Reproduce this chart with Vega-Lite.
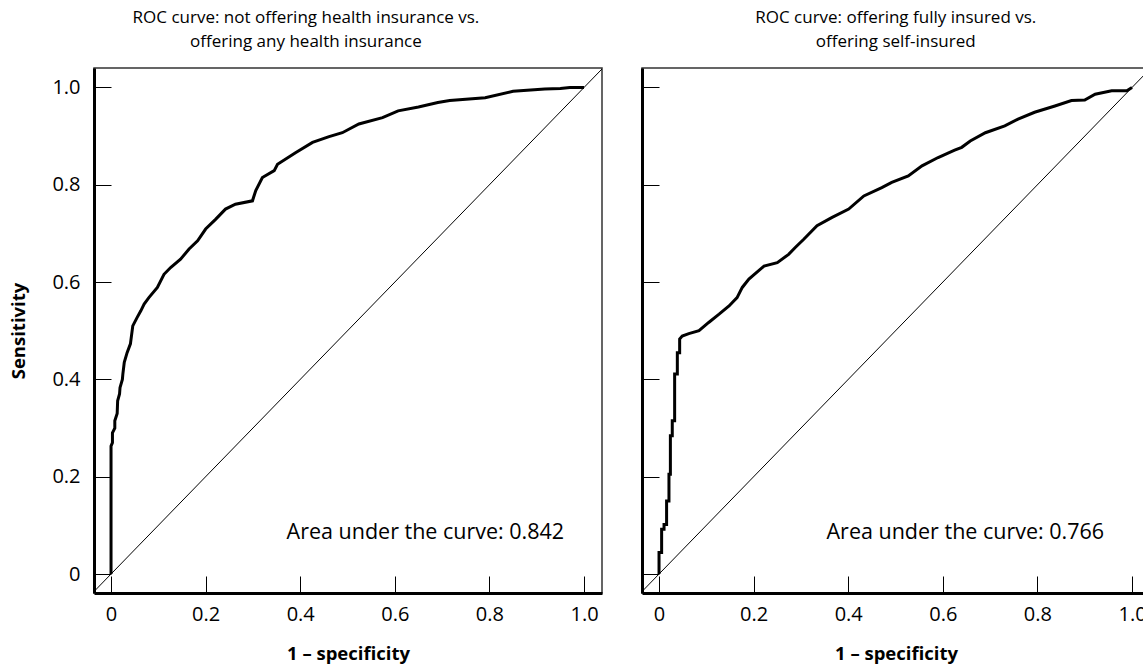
{
  "$schema": "https://vega.github.io/schema/vega-lite/v6.json",
  "padding": {"left": 9, "top": 8, "right": 0, "bottom": 0},
  "background": "white",
  "config": {
    "font": "Open Sans",
    "view": {"stroke": "#333", "strokeWidth": 1.5},
    "axis": {
      "grid": false,
      "domainColor": "black",
      "domainWidth": 3,
      "tickColor": "black",
      "tickWidth": 1,
      "tickSize": -17,
      "labelFont": "Open Sans",
      "labelFontSize": 20,
      "labelColor": "black",
      "titleFont": "Open Sans",
      "titleFontSize": 18.5,
      "titleFontWeight": "bold",
      "titleColor": "black"
    },
    "title": {"font": "Open Sans", "fontSize": 17, "fontWeight": "normal", "color": "black", "anchor": "middle", "frame": "bounds", "offset": 17, "lineHeight": 24}
  },
  "datasets": {
    "left": [
      {"fpr": 0, "tpr": 0}, {"fpr": 0, "tpr": 0.263}, {"fpr": 0.003, "tpr": 0.27}, {"fpr": 0.003, "tpr": 0.29},
      {"fpr": 0.008, "tpr": 0.3}, {"fpr": 0.008, "tpr": 0.315}, {"fpr": 0.013, "tpr": 0.33}, {"fpr": 0.014, "tpr": 0.356},
      {"fpr": 0.018, "tpr": 0.37}, {"fpr": 0.019, "tpr": 0.383}, {"fpr": 0.024, "tpr": 0.4}, {"fpr": 0.025, "tpr": 0.411},
      {"fpr": 0.028, "tpr": 0.435}, {"fpr": 0.034, "tpr": 0.455}, {"fpr": 0.041, "tpr": 0.473}, {"fpr": 0.046, "tpr": 0.51},
      {"fpr": 0.055, "tpr": 0.527}, {"fpr": 0.063, "tpr": 0.541}, {"fpr": 0.07, "tpr": 0.555}, {"fpr": 0.08, "tpr": 0.568},
      {"fpr": 0.098, "tpr": 0.589}, {"fpr": 0.112, "tpr": 0.616}, {"fpr": 0.126, "tpr": 0.63}, {"fpr": 0.147, "tpr": 0.647},
      {"fpr": 0.165, "tpr": 0.668}, {"fpr": 0.183, "tpr": 0.685}, {"fpr": 0.2, "tpr": 0.709}, {"fpr": 0.221, "tpr": 0.729},
      {"fpr": 0.242, "tpr": 0.75}, {"fpr": 0.263, "tpr": 0.76}, {"fpr": 0.299, "tpr": 0.767}, {"fpr": 0.306, "tpr": 0.788},
      {"fpr": 0.32, "tpr": 0.815}, {"fpr": 0.345, "tpr": 0.829}, {"fpr": 0.352, "tpr": 0.842}, {"fpr": 0.39, "tpr": 0.866},
      {"fpr": 0.426, "tpr": 0.887}, {"fpr": 0.461, "tpr": 0.899}, {"fpr": 0.489, "tpr": 0.907}, {"fpr": 0.524, "tpr": 0.925},
      {"fpr": 0.574, "tpr": 0.938}, {"fpr": 0.607, "tpr": 0.952}, {"fpr": 0.65, "tpr": 0.96}, {"fpr": 0.691, "tpr": 0.969},
      {"fpr": 0.716, "tpr": 0.973}, {"fpr": 0.791, "tpr": 0.979}, {"fpr": 0.85, "tpr": 0.992}, {"fpr": 0.917, "tpr": 0.997},
      {"fpr": 0.95, "tpr": 0.998}, {"fpr": 0.97, "tpr": 1.0}, {"fpr": 1.0, "tpr": 1.0}
    ],
    "right": [
      {"fpr": 0, "tpr": 0}, {"fpr": 0, "tpr": 0.044}, {"fpr": 0.0055, "tpr": 0.044}, {"fpr": 0.0055, "tpr": 0.092},
      {"fpr": 0.0106, "tpr": 0.092}, {"fpr": 0.0106, "tpr": 0.102}, {"fpr": 0.016, "tpr": 0.102}, {"fpr": 0.016, "tpr": 0.15},
      {"fpr": 0.021, "tpr": 0.15}, {"fpr": 0.021, "tpr": 0.205}, {"fpr": 0.024, "tpr": 0.205}, {"fpr": 0.024, "tpr": 0.284},
      {"fpr": 0.028, "tpr": 0.284}, {"fpr": 0.028, "tpr": 0.315}, {"fpr": 0.033, "tpr": 0.315}, {"fpr": 0.033, "tpr": 0.411},
      {"fpr": 0.0387, "tpr": 0.411}, {"fpr": 0.0387, "tpr": 0.455}, {"fpr": 0.0436, "tpr": 0.455}, {"fpr": 0.0436, "tpr": 0.483},
      {"fpr": 0.049, "tpr": 0.489}, {"fpr": 0.063, "tpr": 0.494}, {"fpr": 0.0845, "tpr": 0.5}, {"fpr": 0.105, "tpr": 0.517},
      {"fpr": 0.127, "tpr": 0.534}, {"fpr": 0.148, "tpr": 0.551}, {"fpr": 0.165, "tpr": 0.568}, {"fpr": 0.176, "tpr": 0.589},
      {"fpr": 0.19, "tpr": 0.606}, {"fpr": 0.222, "tpr": 0.633}, {"fpr": 0.25, "tpr": 0.64}, {"fpr": 0.274, "tpr": 0.657},
      {"fpr": 0.288, "tpr": 0.671}, {"fpr": 0.306, "tpr": 0.688}, {"fpr": 0.334, "tpr": 0.716}, {"fpr": 0.366, "tpr": 0.733},
      {"fpr": 0.401, "tpr": 0.75}, {"fpr": 0.433, "tpr": 0.777}, {"fpr": 0.471, "tpr": 0.794}, {"fpr": 0.492, "tpr": 0.805},
      {"fpr": 0.527, "tpr": 0.818}, {"fpr": 0.556, "tpr": 0.839}, {"fpr": 0.59, "tpr": 0.856}, {"fpr": 0.625, "tpr": 0.871},
      {"fpr": 0.64, "tpr": 0.877}, {"fpr": 0.658, "tpr": 0.89}, {"fpr": 0.69, "tpr": 0.907}, {"fpr": 0.731, "tpr": 0.921},
      {"fpr": 0.759, "tpr": 0.935}, {"fpr": 0.794, "tpr": 0.949}, {"fpr": 0.837, "tpr": 0.962}, {"fpr": 0.872, "tpr": 0.973},
      {"fpr": 0.9, "tpr": 0.974}, {"fpr": 0.922, "tpr": 0.986}, {"fpr": 0.957, "tpr": 0.993}, {"fpr": 0.989, "tpr": 0.993},
      {"fpr": 1.0, "tpr": 1.0}
    ],
    "diag": [{"fpr": -0.05, "tpr": -0.05}, {"fpr": 1.05, "tpr": 1.05}],
    "aucLeft": [{"fpr": 0.958, "tpr": 0.085, "label": "Area under the curve: 0.842"}],
    "aucRight": [{"fpr": 0.941, "tpr": 0.085, "label": "Area under the curve: 0.766"}]
  },
  "hconcat": [
    {
      "width": 508,
      "height": 525,
      "title": {"text": ["ROC curve: not offering health insurance vs.", "offering any health insurance"]},
      "layer": [
        {
          "data": {"name": "diag"},
          "mark": {"type": "line", "color": "black", "strokeWidth": 1, "clip": true},
          "encoding": {
            "x": {"field": "fpr", "type": "quantitative", "scale": {"domain": [-0.036, 1.038], "nice": false, "zero": false},
              "axis": {"values": [0, 0.2, 0.4, 0.6, 0.8, 1.0], "labelExpr": "datum.value == 0 ? '0' : format(datum.value, '.1f')", "title": "1 – specificity", "labelPadding": 28, "titlePadding": 20}},
            "y": {"field": "tpr", "type": "quantitative", "scale": {"domain": [-0.039, 1.04], "nice": false, "zero": false},
              "axis": {"values": [0, 0.2, 0.4, 0.6, 0.8, 1.0], "labelExpr": "datum.value == 0 ? '0' : format(datum.value, '.1f')", "title": "Sensitivity", "labelPadding": 31, "titlePadding": 23}},
            "order": {"value": null}
          }
        },
        {
          "data": {"name": "left"},
          "mark": {"type": "line", "color": "black", "strokeWidth": 3, "clip": true, "strokeJoin": "miter"},
          "encoding": {
            "x": {"field": "fpr", "type": "quantitative"},
            "y": {"field": "tpr", "type": "quantitative"},
            "order": {"value": null}
          }
        },
        {
          "data": {"name": "aucLeft"},
          "mark": {"type": "text", "align": "right", "baseline": "middle", "fontSize": 21.5, "font": "Open Sans", "color": "black"},
          "encoding": {
            "x": {"field": "fpr", "type": "quantitative"},
            "y": {"field": "tpr", "type": "quantitative"},
            "text": {"field": "label"}
          }
        }
      ]
    },
    {
      "width": 508,
      "height": 525,
      "title": {"text": ["ROC curve: offering fully insured vs.", "offering self-insured"]},
      "layer": [
        {
          "data": {"name": "diag"},
          "mark": {"type": "line", "color": "black", "strokeWidth": 1, "clip": true},
          "encoding": {
            "x": {"field": "fpr", "type": "quantitative", "scale": {"domain": [-0.036, 1.038], "nice": false, "zero": false},
              "axis": {"values": [0, 0.2, 0.4, 0.6, 0.8, 1.0], "labelExpr": "datum.value == 0 ? '0' : format(datum.value, '.1f')", "title": "1 – specificity", "labelPadding": 28, "titlePadding": 20}},
            "y": {"field": "tpr", "type": "quantitative", "scale": {"domain": [-0.039, 1.04], "nice": false, "zero": false},
              "axis": {"values": [0, 0.2, 0.4, 0.6, 0.8, 1.0], "labels": false, "title": null}},
            "order": {"value": null}
          }
        },
        {
          "data": {"name": "right"},
          "mark": {"type": "line", "color": "black", "strokeWidth": 3, "clip": true, "strokeJoin": "miter"},
          "encoding": {
            "x": {"field": "fpr", "type": "quantitative"},
            "y": {"field": "tpr", "type": "quantitative"},
            "order": {"value": null}
          }
        },
        {
          "data": {"name": "aucRight"},
          "mark": {"type": "text", "align": "right", "baseline": "middle", "fontSize": 21.5, "font": "Open Sans", "color": "black"},
          "encoding": {
            "x": {"field": "fpr", "type": "quantitative"},
            "y": {"field": "tpr", "type": "quantitative"},
            "text": {"field": "label"}
          }
        }
      ]
    }
  ],
  "spacing": 37
}
